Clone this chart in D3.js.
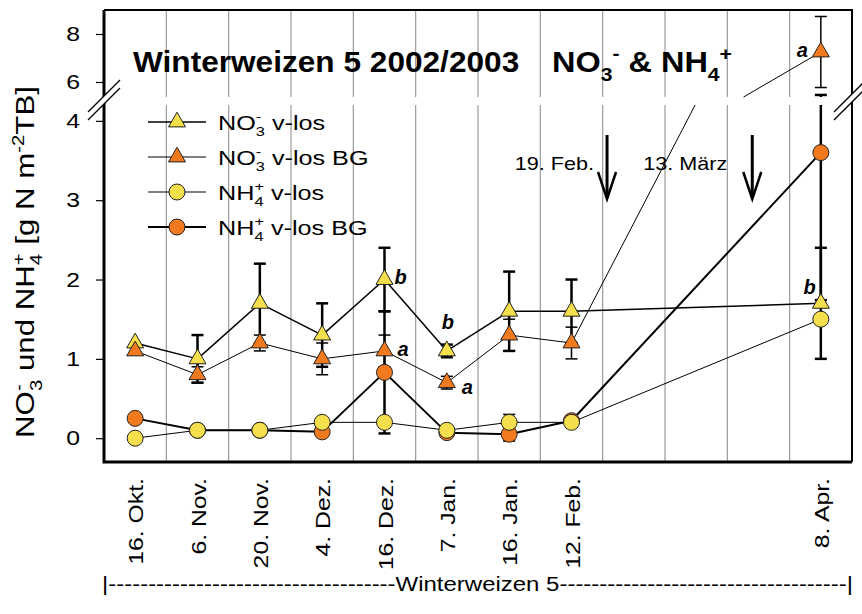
<!DOCTYPE html>
<html>
<head>
<meta charset="utf-8">
<script src="https://cdn.jsdelivr.net/npm/d3@7"></script>
<style>
body { margin: 0; background: #fff; }
svg { display: block; }
text { font-family: Arial, "Liberation Sans", sans-serif; fill: #000; }
</style>
</head>
<body>
<svg id="chart" width="862" height="614"></svg>
<script>
// sampling dates and the x-slot each one sits in (slots 8-10 stay empty)
const dates = ["16. Okt.", "6. Nov.", "20. Nov.", "4. Dez.", "16. Dez.", "7. Jan.", "16. Jan.", "12. Feb.", "8. Apr."];
const dateSlots = [0, 1, 2, 3, 4, 5, 6, 7, 11];
const slotCount = 12;

const no3Vlos = [1.2, 1.0, 1.7, 1.3, 2.0, 1.1, 1.6, 1.6, 1.7];
const no3VlosErr = [0, 0.3, 0.5, 0.4, 0.4, 0.08, 0.5, 0.4, 0.7];
const no3Bg = [1.1, 0.8, 1.2, 1.0, 1.1, 0.7, 1.3, 1.2, 7.25];
const no3BgErr = [0, 0.1, 0.1, 0.2, 0.2, 0.08, 0.2, 0.2, 1.48];
const nh4Vlos = [0.0, 0.1, 0.1, 0.2, 0.2, 0.1, 0.2, 0.2, 1.5];
const nh4VlosErr = [0, 0, 0, 0, 0, 0, 0.1, 0, 0];
const nh4Bg = [0.25, 0.1, 0.1, 0.08, 0.83, 0.07, 0.05, 0.22, 3.6];
const nh4BgErr = [0, 0, 0, 0, 0.77, 0, 0.08, 0, 1.86];

// broken y axis: lower and upper part
const lowerRange = [-0.3, 4.2];
const upperRange = [5.375, 9];
const lowerTicks = [0, 1, 2, 3, 4];
const upperTicks = [6, 8];

// significance letters: [date, series index, letter]
const letterMarks = [
    ["16. Dez.", 0, "b"], ["16. Dez.", 1, "a"],
    ["7. Jan.", 0, "b"], ["7. Jan.", 1, "a"],
    ["8. Apr.", 1, "a"], ["8. Apr.", 0, "b"]
];
// fertilisation arrows: label and x position in slot units from the left axis
const arrowLabels = ["19. Feb.", "13. März"];
const arrowSlots = [8.07, 10.4];

const yellow = "#F6DF4C";
const orange = "#F27A1E";

const svg = d3.select("#chart");
const plot = {left: 104, right: 852, top: 10, bottom: 462, breakLow: 105, breakHigh: 97};

const x = d3.scaleBand().domain(d3.range(slotCount)).range([plot.left, plot.right]);
const cx = i => x(dateSlots[i]) + x.bandwidth() / 2;
const yLow = d3.scaleLinear().domain(lowerRange).range([plot.bottom, plot.breakLow]);
const yHigh = d3.scaleLinear().domain(upperRange).range([plot.breakHigh, plot.top]);
const ySegments = [yLow, yHigh];

function yOf(v) {
    for (const s of ySegments) {
        const [lo, hi] = s.domain();
        if (v >= lo && v <= hi) return s(v);
    }
    return null;
}

// split a straight data-space segment into the parts inside each axis segment
function splitSegment(x0, v0, x1, v1) {
    const pieces = [];
    ySegments.forEach(s => {
        const [lo, hi] = s.domain();
        let t0 = 0, t1 = 1;
        if (v0 === v1) {
            if (v0 < lo || v0 > hi) return;
        } else {
            const ta = (lo - v0) / (v1 - v0), tb = (hi - v0) / (v1 - v0);
            t0 = Math.max(0, Math.min(ta, tb));
            t1 = Math.min(1, Math.max(ta, tb));
            if (t0 >= t1) return;
        }
        pieces.push([
            [x0 + (x1 - x0) * t0, s(v0 + (v1 - v0) * t0)],
            [x0 + (x1 - x0) * t1, s(v0 + (v1 - v0) * t1)]
        ]);
    });
    return pieces;
}

function placeText(g, px, py, rot, size, stretch) {
    return g.append("text")
        .attr("transform", `translate(${px},${py}) rotate(${rot}) scale(${stretch},1)`)
        .attr("font-size", size);
}

// parts: [text, kind] with kind "", "sub", "sup" or "stack" (sup above previous sub)
function richText(t, parts, size) {
    let shift = 0, prev = null, pending = 0;
    parts.forEach(([txt, kind]) => {
        const target = kind === "sub" ? 0.3 * size : (kind === "sup" || kind === "stack") ? -0.42 * size : 0;
        const ts = t.append("tspan")
            .attr("dy", target - shift)
            .attr("font-size", kind ? size * 0.65 : size)
            .text(txt);
        if (kind === "stack" && prev) {
            const subW = prev.node().getComputedTextLength();
            ts.attr("dx", -subW);
            pending = Math.max(0, subW - ts.node().getComputedTextLength());
        } else if (pending) {
            ts.attr("dx", pending);
            pending = 0;
        }
        shift = target;
        prev = ts;
    });
}

const series = [
    {values: no3Vlos, err: no3VlosErr, shape: d3.symbolTriangle, size: 125, fill: yellow, lw: 1.5, ew: 2.5,
     label: [["NO", ""], ["3", "sub"], ["-", "stack"], [" v-los", ""]]},
    {values: no3Bg, err: no3BgErr, shape: d3.symbolTriangle, size: 125, fill: orange, lw: 1, ew: 1.5,
     label: [["NO", ""], ["3", "sub"], ["-", "stack"], [" v-los BG", ""]]},
    {values: nh4Vlos, err: nh4VlosErr, shape: d3.symbolCircle, size: 201, fill: yellow, lw: 1, ew: 1.5,
     label: [["NH", ""], ["4", "sub"], ["+", "stack"], [" v-los", ""]]},
    {values: nh4Bg, err: nh4BgErr, shape: d3.symbolCircle, size: 201, fill: orange, lw: 2, ew: 2.5,
     label: [["NH", ""], ["4", "sub"], ["+", "stack"], [" v-los BG", ""]]}
];

// grid lines at slot borders, broken at the axis break
const grid = svg.append("g").attr("stroke", "#9a9a9a").attr("stroke-width", 1.2);
d3.range(1, slotCount).forEach(k => {
    const gx = x(k);
    grid.append("line").attr("x1", gx).attr("x2", gx).attr("y1", plot.top).attr("y2", plot.breakHigh);
    grid.append("line").attr("x1", gx).attr("x2", gx).attr("y1", plot.breakLow).attr("y2", plot.bottom);
});

// frame
svg.append("path")
    .attr("d", `M${plot.left},${plot.top}H${plot.right}V${plot.bottom}`)
    .attr("fill", "none").attr("stroke", "#000").attr("stroke-width", 2);
svg.append("path")
    .attr("d", `M${plot.left},${plot.top}V${plot.bottom}H${plot.right}`)
    .attr("fill", "none").attr("stroke", "#000").attr("stroke-width", 3);

// y axes
[[yLow, lowerTicks], [yHigh, upperTicks]].forEach(([s, ticks]) => {
    const ax = svg.append("g")
        .attr("transform", `translate(${plot.left},0)`)
        .call(d3.axisLeft(s).tickValues(ticks).tickSize(8).tickFormat(d3.format("d")));
    ax.select(".domain").remove();
    ax.selectAll("line").attr("stroke", "#000").attr("stroke-width", 1.2);
    ax.selectAll("text")
        .attr("font-size", 21)
        .attr("font-family", "Arial, 'Liberation Sans', sans-serif")
        .attr("x", -24 / 1.18)
        .attr("transform", "scale(1.18,1)");
});

// axis break marks
function breakMark(bx, by) {
    const g = svg.append("g");
    g.append("polygon")
        .attr("points", `${bx - 16},${by + 12} ${bx + 16},${by - 20} ${bx + 16},${by - 12} ${bx - 16},${by + 20}`)
        .attr("fill", "#fff");
    [-4, 4].forEach(o => {
        g.append("line")
            .attr("x1", bx - 16).attr("y1", by + 16 + o)
            .attr("x2", bx + 16).attr("y2", by - 16 + o)
            .attr("stroke", "#000").attr("stroke-width", 1.3);
    });
}
breakMark(plot.left, 100);
breakMark(plot.right - 2, 100);

// series lines
const lineGen = d3.line();
series.forEach(s => {
    const g = svg.append("g").attr("stroke", "#000").attr("stroke-width", s.lw).attr("fill", "none");
    for (let i = 0; i < s.values.length - 1; i++) {
        splitSegment(cx(i), s.values[i], cx(i + 1), s.values[i + 1])
            .forEach(p => g.append("path").attr("d", lineGen(p)));
    }
});

// error bars
series.forEach(s => {
    const g = svg.append("g").attr("stroke", "#000").attr("stroke-width", s.ew);
    s.values.forEach((v, i) => {
        const e = s.err[i];
        if (!e) return;
        const px = cx(i);
        splitSegment(px, v - e, px, v + e).forEach(p => {
            g.append("line").attr("x1", p[0][0]).attr("y1", p[0][1]).attr("x2", p[1][0]).attr("y2", p[1][1]);
        });
        [v - e, v + e].forEach(ev => {
            const cy = yOf(ev);
            if (cy === null) return;
            g.append("line").attr("x1", px - 6).attr("x2", px + 6).attr("y1", cy).attr("y2", cy);
        });
    });
});

// markers, circles of v-los drawn last
[0, 1, 3, 2].forEach(si => {
    const s = series[si];
    svg.append("g").selectAll("path")
        .data(s.values)
        .join("path")
        .attr("d", d3.symbol().type(s.shape).size(s.size))
        .attr("transform", (v, i) => `translate(${cx(i)},${yOf(v)})`)
        .attr("fill", s.fill)
        .attr("stroke", "#222")
        .attr("stroke-width", 1);
});

// significance letters
const letterOffsets = [[10, 4, "start"], [13, 5, "start"], [1, -22, "middle"], [15, 11, "start"], [-13, 5, "end"], [-5, -9, "end"]];
letterMarks.forEach(([d, si, txt], k) => {
    const i = dates.indexOf(d);
    const [dx, dy, anchor] = letterOffsets[k];
    svg.append("text")
        .attr("x", cx(i) + dx).attr("y", yOf(series[si].values[i]) + dy)
        .attr("text-anchor", anchor)
        .attr("font-size", 20).attr("font-weight", "bold").attr("font-style", "italic")
        .text(txt);
});

// fertilisation arrows
const arrowLabelGap = [-13, -25];
arrowLabels.forEach((lab, k) => {
    const ax = plot.left + x.bandwidth() * arrowSlots[k];
    const g = svg.append("g").attr("stroke", "#000").attr("fill", "none");
    g.append("line").attr("x1", ax).attr("x2", ax).attr("y1", 135).attr("y2", 198).attr("stroke-width", 3);
    g.append("path").attr("d", `M${ax - 9},${172}L${ax},${199}L${ax + 9},${172}`).attr("stroke-width", 2.5);
    placeText(svg, ax + arrowLabelGap[k], 170, 0, 18, 1.2).attr("text-anchor", "end").text(lab);
});

// titles
placeText(svg, 133, 72, 0, 29, 1.09).attr("font-weight", "bold").text("Winterweizen 5 2002/2003");
richText(placeText(svg, 552, 72, 0, 29, 1.12).attr("font-weight", "bold"),
    [["NO", ""], ["3", "sub"], ["-", "sup"], [" & NH", ""], ["4", "sub"], ["+", "sup"]], 29);

// legend
series.forEach((s, k) => {
    const ly = 122 + k * 35;
    svg.append("line").attr("x1", 148).attr("x2", 206).attr("y1", ly).attr("y2", ly)
        .attr("stroke", "#000").attr("stroke-width", s.lw);
    svg.append("path")
        .attr("d", d3.symbol().type(s.shape).size(s.size))
        .attr("transform", `translate(177,${ly})`)
        .attr("fill", s.fill).attr("stroke", "#222").attr("stroke-width", 1);
    richText(placeText(svg, 218, ly + 8, 0, 21, 1.2), s.label, 21);
});

// y axis title
richText(placeText(svg, 34, 262, -90, 25, 1.25).attr("text-anchor", "middle"),
    [["NO", ""], ["3", "sub"], ["-", "stack"], [" und NH", ""], ["4", "sub"], ["+", "stack"],
     [" [g N m", ""], ["-2", "sup"], ["TB]", ""]], 25);

// date labels
dates.forEach((d, i) => {
    placeText(svg, cx(i) + 8, 478, -90, 21, 1.18).attr("text-anchor", "end").text(d);
});

// crop period line
const dashes = "-".repeat(36);
svg.append("text")
    .attr("x", plot.left - 2).attr("y", 591)
    .attr("font-size", 20)
    .attr("textLength", plot.right - plot.left + 3)
    .attr("lengthAdjust", "spacingAndGlyphs")
    .text("|" + dashes + "Winterweizen 5" + dashes + "|");
</script>
</body>
</html>
